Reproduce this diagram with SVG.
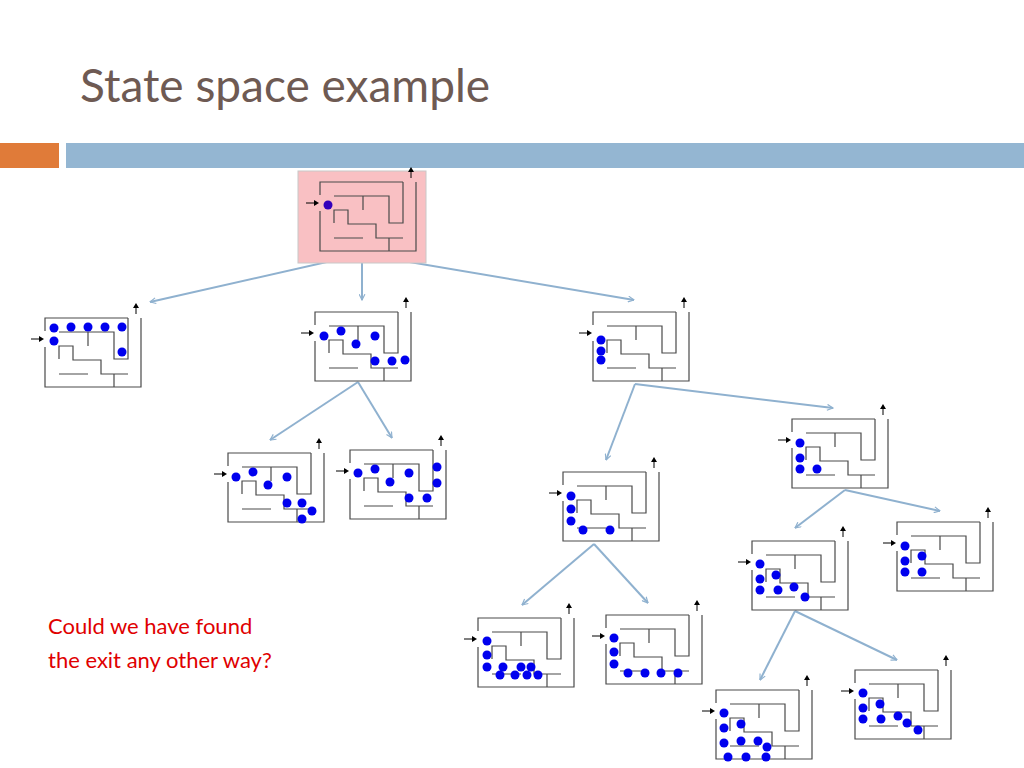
<svg xmlns="http://www.w3.org/2000/svg" xmlns:xlink="http://www.w3.org/1999/xlink" width="1024" height="768" viewBox="0 0 1024 768">
<style>
.w{fill:none;stroke:#4a4a4a;stroke-width:1.2}
.ar{stroke:#000;stroke-width:1}
.d{fill:#0000ee}
.e{fill:none;stroke:#8fb1cf;stroke-width:2;marker-end:url(#m)}
</style>
<defs>
<marker id="m" viewBox="0 0 12 12" refX="11" refY="6" markerWidth="7" markerHeight="7" orient="auto" markerUnits="userSpaceOnUse">
<path d="M1 1L11 6L1 11" fill="none" stroke="#8fb1cf" stroke-width="2"/>
</marker>
<g id="maze">
<path class="w" d="M0 13V0H83M96 0V69H0V29M14 14H69V41H83V0M43 14V28M14 41V28H28V42H56V56H83M14 56H43M69 56V69"/>
<path class="ar" d="M91 -4V-12"/><path d="M88 -10L91 -15L94 -10Z"/>
<path class="ar" d="M-14 21H-5"/><path d="M-6 18L-1 21L-6 24Z"/>
</g>
</defs>
<rect width="1024" height="768" fill="#fff"/>
<text x="80" y="102" font-family="Lato, 'Open Sans', sans-serif" font-size="46" fill="#6e5a53">State space example</text>
<rect x="0" y="143" width="59" height="25" fill="#e07b39"/>
<rect x="66" y="143" width="958" height="25" fill="#94b6d2"/>
<g id="connectors">
<path class="e" d="M362 254L150 302"/><path class="e" d="M362 254V300"/><path class="e" d="M362 254L634 300"/>
<path class="e" d="M358 382L270 440"/><path class="e" d="M358 382L392 438"/>
<path class="e" d="M635 384L606 460"/><path class="e" d="M635 384L833 408"/>
<path class="e" d="M845 490L795 528"/><path class="e" d="M845 490L940 511"/>
<path class="e" d="M594 544L522 605"/><path class="e" d="M594 544L648 603"/>
<path class="e" d="M795 611L760 680"/><path class="e" d="M795 611L897 660"/>
</g>
<g id="root"><rect x="298" y="171" width="128" height="92" fill="#f9c0c3" stroke="#c8c8c8"/><use xlink:href="#maze" transform="translate(320 182)"/><circle cx="328" cy="205" r="4.5" fill="#3300bb"/></g>
<g id="n1"><use xlink:href="#maze" transform="translate(45 318)"/><g class="d"><circle cx="54" cy="328" r="4.5"/><circle cx="71" cy="327" r="4.5"/><circle cx="88" cy="327" r="4.5"/><circle cx="105" cy="327" r="4.5"/><circle cx="122" cy="327" r="4.5"/><circle cx="54" cy="341" r="4.5"/><circle cx="122" cy="352" r="4.5"/></g></g>
<g id="n2"><use xlink:href="#maze" transform="translate(315 312)"/><g class="d"><circle cx="324" cy="336" r="4.5"/><circle cx="341" cy="331" r="4.5"/><circle cx="356" cy="344" r="4.5"/><circle cx="375" cy="336" r="4.5"/><circle cx="375" cy="361" r="4.5"/><circle cx="392" cy="361" r="4.5"/><circle cx="405" cy="360" r="4.5"/></g></g>
<g id="n3"><use xlink:href="#maze" transform="translate(593 312)"/><g class="d"><circle cx="601" cy="340" r="4.5"/><circle cx="601" cy="351" r="4.5"/><circle cx="601" cy="360" r="4.5"/></g></g>
<g id="n4"><use xlink:href="#maze" transform="translate(228 453)"/><g class="d"><circle cx="236" cy="477" r="4.5"/><circle cx="253" cy="472" r="4.5"/><circle cx="268" cy="485" r="4.5"/><circle cx="287" cy="477" r="4.5"/><circle cx="287" cy="503" r="4.5"/><circle cx="302" cy="503" r="4.5"/><circle cx="312" cy="511" r="4.5"/><circle cx="302" cy="519" r="4.5"/></g></g>
<g id="n5"><use xlink:href="#maze" transform="translate(350 450)"/><g class="d"><circle cx="358" cy="473" r="4.5"/><circle cx="375" cy="469" r="4.5"/><circle cx="390" cy="482" r="4.5"/><circle cx="409" cy="473" r="4.5"/><circle cx="437" cy="467" r="4.5"/><circle cx="437" cy="483" r="4.5"/><circle cx="427" cy="498" r="4.5"/><circle cx="409" cy="498" r="4.5"/></g></g>
<g id="n6"><use xlink:href="#maze" transform="translate(563 472)"/><g class="d"><circle cx="571" cy="496" r="4.5"/><circle cx="571" cy="509" r="4.5"/><circle cx="571" cy="521" r="4.5"/><circle cx="583" cy="530" r="4.5"/><circle cx="610" cy="530" r="4.5"/></g></g>
<g id="n7"><use xlink:href="#maze" transform="translate(792 419)"/><g class="d"><circle cx="800" cy="443" r="4.5"/><circle cx="800" cy="458" r="4.5"/><circle cx="800" cy="469" r="4.5"/><circle cx="817" cy="469" r="4.5"/></g></g>
<g id="n8"><use xlink:href="#maze" transform="translate(752 541)"/><g class="d"><circle cx="760" cy="564" r="4.5"/><circle cx="760" cy="579" r="4.5"/><circle cx="776" cy="575" r="4.5"/><circle cx="760" cy="590" r="4.5"/><circle cx="778" cy="590" r="4.5"/><circle cx="794" cy="587" r="4.5"/><circle cx="805" cy="597" r="4.5"/></g></g>
<g id="n9"><use xlink:href="#maze" transform="translate(897 522)"/><g class="d"><circle cx="905" cy="546" r="4.5"/><circle cx="905" cy="561" r="4.5"/><circle cx="922" cy="556" r="4.5"/><circle cx="905" cy="572" r="4.5"/><circle cx="922" cy="572" r="4.5"/></g></g>
<g id="n10"><use xlink:href="#maze" transform="translate(478 618)"/><g class="d"><circle cx="487" cy="641" r="4.5"/><circle cx="487" cy="655" r="4.5"/><circle cx="487" cy="667" r="4.5"/><circle cx="503" cy="667" r="4.5"/><circle cx="521" cy="667" r="4.5"/><circle cx="531" cy="667" r="4.5"/><circle cx="538" cy="675" r="4.5"/><circle cx="527" cy="675" r="4.5"/><circle cx="515" cy="675" r="4.5"/><circle cx="500" cy="675" r="4.5"/></g></g>
<g id="n11"><use xlink:href="#maze" transform="translate(606 615)"/><g class="d"><circle cx="614" cy="638" r="4.5"/><circle cx="614" cy="652" r="4.5"/><circle cx="614" cy="664" r="4.5"/><circle cx="628" cy="673" r="4.5"/><circle cx="645" cy="673" r="4.5"/><circle cx="661" cy="673" r="4.5"/><circle cx="678" cy="673" r="4.5"/></g></g>
<g id="n12"><use xlink:href="#maze" transform="translate(716 690)"/><g class="d"><circle cx="724" cy="713" r="4.5"/><circle cx="724" cy="728" r="4.5"/><circle cx="741" cy="724" r="4.5"/><circle cx="724" cy="743" r="4.5"/><circle cx="741" cy="741" r="4.5"/><circle cx="758" cy="741" r="4.5"/><circle cx="767" cy="747" r="4.5"/><circle cx="766" cy="757" r="4.5"/><circle cx="746" cy="757" r="4.5"/><circle cx="728" cy="757" r="4.5"/></g></g>
<g id="n13"><use xlink:href="#maze" transform="translate(855 670)"/><g class="d"><circle cx="863" cy="693" r="4.5"/><circle cx="863" cy="708" r="4.5"/><circle cx="880" cy="704" r="4.5"/><circle cx="863" cy="719" r="4.5"/><circle cx="881" cy="719" r="4.5"/><circle cx="898" cy="716" r="4.5"/><circle cx="907" cy="723" r="4.5"/><circle cx="918" cy="730" r="4.5"/></g></g>
<g font-family="Lato, 'Open Sans', sans-serif" font-size="22" fill="#e00000">
<text x="48" y="634">Could we have found</text>
<text x="48" y="668">the exit any other way?</text>
</g>
</svg>
